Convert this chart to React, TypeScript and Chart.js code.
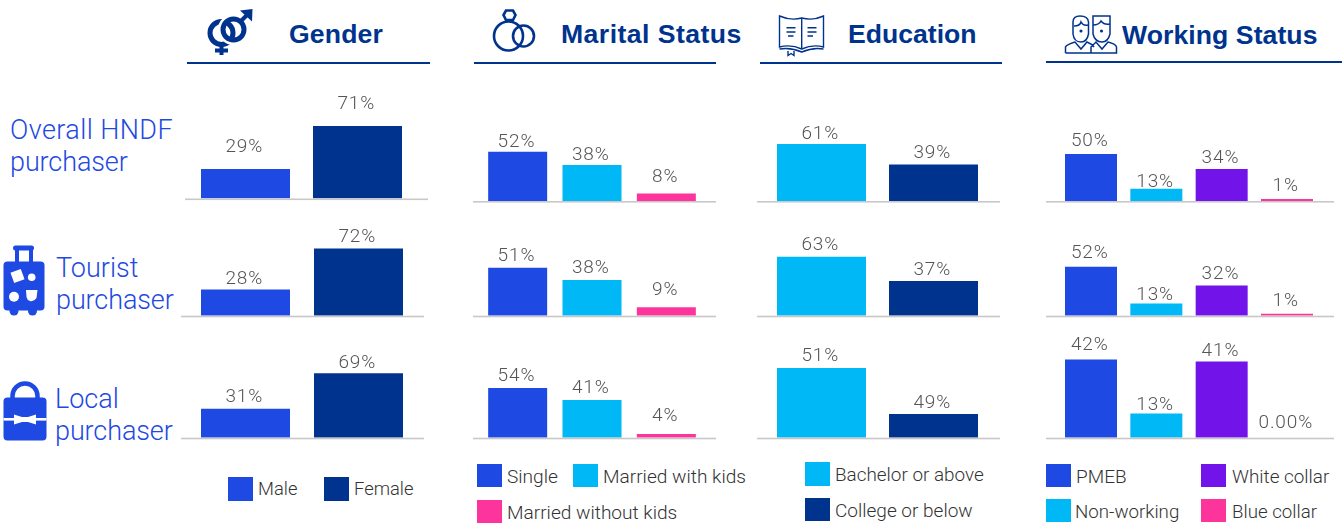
import React, { useEffect, useRef } from "react";
import { Chart, registerables } from "chart.js";

Chart.register(...registerables);

const BLUE = "#1E49E2";
const NAVY = "#00338D";
const CYAN = "#00B8F5";
const PINK = "#FD349C";
const PURPLE = "#7213EA";

// Categories
const genderCategories = ["Male", "Female"];
const maritalCategories = ["Single", "Married with kids", "Married without kids"];
const educationCategories = ["Bachelor or above", "College or below"];
const workingCategories = ["PMEB", "Non-working", "White collar", "Blue collar"];

// Series values
const overallGender = [29, 71];
const touristGender = [28, 72];
const localGender = [31, 69];
const overallMarital = [52, 38, 8];
const touristMarital = [51, 38, 9];
const localMarital = [54, 41, 4];
const overallEducation = [61, 39];
const touristEducation = [63, 37];
// The reference draws this panel's bars out of proportion to its labels (51% / 49%):
// these are the bar heights.
const localEducationBars = [74.5, 25.3];
const overallWorking = [50, 13, 34, 1];
const touristWorking = [52, 13, 32, 1];
const localWorking = [42, 13, 41, null];

// Printed labels
const overallGenderLabels = ["29%", "71%"];
const touristGenderLabels = ["28%", "72%"];
const localGenderLabels = ["31%", "69%"];
const overallMaritalLabels = ["52%", "38%", "8%"];
const touristMaritalLabels = ["51%", "38%", "9%"];
const localMaritalLabels = ["54%", "41%", "4%"];
const overallEducationLabels = ["61%", "39%"];
const touristEducationLabels = ["63%", "37%"];
const localEducationLabels = ["51%", "49%"];
const overallWorkingLabels = ["50%", "13%", "34%", "1%"];
const touristWorkingLabels = ["52%", "13%", "32%", "1%"];
const localWorkingLabels = ["42%", "13%", "41%", "0.00%"];

const genderColors = [BLUE, NAVY];
const maritalColors = [BLUE, CYAN, PINK];
const educationColors = [CYAN, NAVY];
const workingColors = [BLUE, CYAN, PURPLE, PINK];

type Panel = {
  cats: string[];
  values: (number | null)[];
  labels: string[];
  colors: string[];
  lineL: number; lineR: number;   // baseline extent
  areaL: number; areaR: number;   // plot extent
  base: number;                   // baseline y
  ppu: number;                    // pixels per unit
  bar: number;                    // bar thickness
  gaps: number[];                 // label centre above bar top
};

const genderR1 = { lineL: 185, lineR: 428, areaL: 189.5, areaR: 413.5, bar: 89 };
const genderR = { lineL: 181, lineR: 424, areaL: 189, areaR: 415, bar: 89 };
const maritalX = { lineL: 473, lineR: 716, areaL: 480.5, areaR: 703.5, bar: 59 };
const educationX = { lineL: 757, lineR: 1000, areaL: 765.5, areaR: 989.5, bar: 89 };
const workingX = { lineL: 1046, lineR: 1334, areaL: 1058.33, areaR: 1319.67, bar: 52 };

const panels: Panel[] = [
  { cats: genderCategories, values: overallGender, labels: overallGenderLabels, colors: genderColors, ...genderR1, base: 198.5, ppu: 1.02, gaps: [22.3, 22.7] },
  { cats: genderCategories, values: touristGender, labels: touristGenderLabels, colors: genderColors, ...genderR, base: 315.7, ppu: 0.935, gaps: [11.3, 12.3] },
  { cats: genderCategories, values: localGender, labels: localGenderLabels, colors: genderColors, ...genderR, base: 437.7, ppu: 0.935, gaps: [12.3, 11.3] },
  { cats: maritalCategories, values: overallMarital, labels: overallMaritalLabels, colors: maritalColors, ...maritalX, base: 201, ppu: 0.945, gaps: [11, 11, 17.3] },
  { cats: maritalCategories, values: touristMarital, labels: touristMaritalLabels, colors: maritalColors, ...maritalX, base: 315.7, ppu: 0.94, gaps: [12.3, 12.3, 18.3] },
  { cats: maritalCategories, values: localMarital, labels: localMaritalLabels, colors: maritalColors, ...maritalX, base: 437.7, ppu: 0.92, gaps: [12.3, 12.3, 18.7] },
  { cats: educationCategories, values: overallEducation, labels: overallEducationLabels, colors: educationColors, ...educationX, base: 201, ppu: 0.935, gaps: [11, 12] },
  { cats: educationCategories, values: touristEducation, labels: touristEducationLabels, colors: educationColors, ...educationX, base: 315.7, ppu: 0.935, gaps: [12.3, 12.3] },
  { cats: educationCategories, values: localEducationBars, labels: localEducationLabels, colors: educationColors, ...educationX, base: 437.7, ppu: 0.935, gaps: [12.3, 11.3] },
  { cats: workingCategories, values: overallWorking, labels: overallWorkingLabels, colors: workingColors, ...workingX, base: 201, ppu: 0.94, gaps: [14, 8, 11.3, 14] },
  { cats: workingCategories, values: touristWorking, labels: touristWorkingLabels, colors: workingColors, ...workingX, base: 315.7, ppu: 0.94, gaps: [14.3, 9.3, 12, 14] },
  { cats: workingCategories, values: localWorking, labels: localWorkingLabels, colors: workingColors, ...workingX, base: 437.7, ppu: 1.86, gaps: [15, 9, 11.3, 15] },
];

const LABEL_FONT = '300 19px Roboto, sans-serif';

function PanelChart({ p }: { p: Panel }) {
  const ref = useRef<HTMLCanvasElement>(null);
  const height = 110;
  const canvasBottom = Math.ceil(p.base) + 3;
  const top = canvasBottom - height;
  const bottomPad = canvasBottom - p.base;
  const areaHeight = p.base - top;

  useEffect(() => {
    const overlay = {
      id: "panelOverlay",
      afterDatasetsDraw(chart: any) {
        const { ctx, chartArea } = chart;
        ctx.save();
        ctx.fillStyle = "#C8C8C8";
        ctx.fillRect(0, chartArea.bottom, chart.width, 1.6);
        ctx.font = LABEL_FONT;
        (ctx as any).letterSpacing = "0.9px";
        ctx.fillStyle = "#555555";
        ctx.textAlign = "center";
        ctx.textBaseline = "middle";
        const meta = chart.getDatasetMeta(0);
        const y0 = chart.scales.y.getPixelForValue(0);
        p.labels.forEach((label, i) => {
          const el = meta.data[i];
          const top = p.values[i] == null ? y0 : el.y;
          ctx.fillText(label, el.x - 1.2, top - p.gaps[i] + 1);
        });
        ctx.restore();
      },
    };
    const chart = new Chart(ref.current as HTMLCanvasElement, {
      type: "bar",
      data: {
        labels: p.cats,
        datasets: [
          {
            data: p.values,
            backgroundColor: p.colors,
            barThickness: p.bar,
            minBarLength: 1.9,
            inflateAmount: 0,
            borderWidth: 0,
          } as any,
        ],
      },
      options: {
        animation: false,
        responsive: false,
        maintainAspectRatio: false,
        devicePixelRatio: 1,
        layout: {
          padding: {
            left: p.areaL - p.lineL,
            right: p.lineR - p.areaR,
            top: 0,
            bottom: bottomPad,
          },
        },
        plugins: { legend: { display: false }, tooltip: { enabled: false }, title: { display: false } },
        scales: {
          x: { display: false, offset: true, grid: { display: false } },
          y: { display: false, min: 0, max: areaHeight / p.ppu, grid: { display: false } },
        },
      },
      plugins: [overlay],
    });
    return () => chart.destroy();
  }, []);

  return (
    <canvas
      ref={ref}
      width={p.lineR - p.lineL}
      height={height}
      style={{ position: "absolute", left: p.lineL, top, width: p.lineR - p.lineL, height, display: "block" }}
    />
  );
}

type Txt = { text: string; x: number; y: number; ls?: number };

const headings: Txt[] = [
  { text: "Gender", x: 289, y: 34, ls: 0.15 },
  { text: "Marital Status", x: 561, y: 34, ls: 0.45 },
  { text: "Education", x: 848, y: 34 },
  { text: "Working Status", x: 1122, y: 35, ls: 0.07 },
];
const headingRules = [
  { x: 187, w: 243, y: 61.5 },
  { x: 473.5, w: 242, y: 61.5 },
  { x: 760, w: 242, y: 61.5 },
  { x: 1046, w: 296, y: 60.5 },
];
const rowTitles: Txt[] = [
  { text: "Overall HNDF", x: 10, y: 130, ls: 0.42 },
  { text: "purchaser", x: 10, y: 162, ls: -0.1 },
  { text: "Tourist", x: 56, y: 268 },
  { text: "purchaser", x: 56, y: 300, ls: -0.1 },
  { text: "Local", x: 55, y: 399 },
  { text: "purchaser", x: 55, y: 431, ls: -0.1 },
];
const legendItems = [
  { text: genderCategories[0], color: BLUE, x: 228, y: 477, h: 24, tx: 258, fs: 18.4, dy: -0.5 },
  { text: genderCategories[1], color: NAVY, x: 324, y: 477, h: 24, tx: 354, fs: 18.4, dy: -0.5 },
  { text: maritalCategories[0], color: BLUE, x: 477, y: 464, h: 23, tx: 507, fs: 19.1, dy: 1 },
  { text: maritalCategories[1], color: CYAN, x: 573, y: 464, h: 23, tx: 603, fs: 19.1, dy: 1 },
  { text: maritalCategories[2], color: PINK, x: 477, y: 500, h: 23, tx: 507, fs: 19.1, dy: 1 },
  { text: educationCategories[0], color: CYAN, x: 805, y: 462, h: 24, tx: 835, fs: 18.9, dy: 1 },
  { text: educationCategories[1], color: NAVY, x: 805, y: 498, h: 23, tx: 835, fs: 19, dy: 1 },
  { text: workingCategories[0], color: BLUE, x: 1046, y: 464, h: 23, tx: 1076, fs: 19, dy: 1 },
  { text: workingCategories[2], color: PURPLE, x: 1201, y: 464, h: 23, tx: 1232, fs: 18.9, dy: 1 },
  { text: workingCategories[1], color: CYAN, x: 1046, y: 499, h: 23, tx: 1075, fs: 18.7, dy: 1 },
  { text: workingCategories[3], color: PINK, x: 1201, y: 499, h: 23, tx: 1232, fs: 18.7, dy: 1 },
];

function Icons() {
  return (
    <svg width={1342} height={528} style={{ position: "absolute", left: 0, top: 0 }}>
      {/* gender */}
      <g fill="none" stroke={NAVY}>
        <circle cx={221.5} cy={33} r={11.5} strokeWidth={5} />
        <circle cx={233.5} cy={29.5} r={12.5} stroke="#fff" strokeWidth={6} />
        <circle cx={233.5} cy={29.5} r={10.5} strokeWidth={5} />
        <path d="M221.5 45V55M215 50.5H228" strokeWidth={4} />
        <path d="M241 21L250 12" strokeWidth={4} />
        <path d="M240 10.5L252.5 9L252 21.5Z" fill={NAVY} stroke="none" />
      </g>
      {/* marital */}
      <g fill="none" stroke={NAVY} strokeWidth={2.6}>
        <circle cx={508.5} cy={36} r={14.5} />
        <circle cx={523.5} cy={36} r={10.5} />
        <path d="M503.5 15L506 10.5H513L515.5 15L513 20H506Z" />
      </g>
      {/* education */}
      <g fill="none" stroke={NAVY} strokeWidth={1.4}>
        <path d="M779.5 16Q791 21 801.7 18Q813 21 823.5 16V47Q813 44 801.7 49Q791 44 779.5 47Z" />
        <path d="M801.7 18V49" />
        <path d="M779.5 49Q791 47 801.7 52Q813 47 823.5 49" />
        <path d="M788 51V55.5L791 53.5L794 55.5V51" />
        <path d="M786.5 27.7H795.5M786.5 32H795.5M788 36H793.5M807.5 27.7H816.5M807.5 32H816.5M807.5 36H813" strokeWidth={1.6} />
      </g>
      {/* working */}
      <g fill="none" stroke={NAVY} strokeWidth={1.5}>
        <path d="M1073 22Q1073 16 1080 16Q1088 16 1088.5 22V34Q1087 42 1081 42Q1074 42 1073 34Z" />
        <path d="M1093 16H1110V34Q1108 42 1102 42Q1095 42 1093 34Z" />
        <path d="M1074 26Q1080 26 1081 22Q1083 26 1088 25M1093 25Q1099 25 1101 21Q1104 25 1110 24" />
        <path d="M1065.5 53V47Q1066 45 1075 42L1081 49L1087 42Q1092 44 1094 47M1091 53V47Q1094 44 1096 42L1102 49L1108 42Q1116 44 1116.5 47V53H1065.5Z" />
        <circle cx={1081} cy={31} r={0.8} fill={NAVY} />
        <circle cx={1101.5} cy={31} r={0.8} fill={NAVY} />
      </g>
      {/* suitcase */}
      <g fill={BLUE}>
        <rect x={13} y={245.5} width={21} height={5} rx={2.5} />
        <rect x={15} y={248} width={4} height={15} />
        <rect x={29} y={248} width={4} height={15} />
        <rect x={3.5} y={261.5} width={41} height={49} rx={4} />
        <circle cx={14} cy={311} r={4.5} />
        <circle cx={32.5} cy={311} r={4.5} />
        <g fill="#fff">
          <rect x={12} y={270.5} width={11} height={11} transform="rotate(-20 17.5 276)" />
          <circle cx={31.7} cy={277.3} r={3.8} />
          <circle cx={14} cy={296.7} r={5} />
          <path d="M26 290H37.5L36.5 298Q34 302 30 301Q27 300 26.5 297Z" />
        </g>
      </g>
      {/* bag */}
      <g>
        <path d="M12.5 399V396A12.5 12.5 0 0 1 37.5 396V399" fill="none" stroke={BLUE} strokeWidth={4.5} />
        <rect x={3.5} y={397.5} width={43} height={43} rx={4} fill={BLUE} />
        <rect x={3.5} y={418} width={43} height={2.6} fill="#fff" />
        <path d="M14 414.5L22 417H28L36 414.5V424.5L28 422H22L14 424.5Z" fill="#fff" />
      </g>
    </svg>
  );
}

export default function App() {
  return (
    <div style={{ position: "absolute", left: 0, top: 0, width: 1342, height: 528, overflow: "hidden", background: "#fff" }}>
      <Icons />
      {headings.map((h) => (
        <div key={h.text} style={{ position: "absolute", left: h.x, top: h.y - 16, height: 32, lineHeight: "32px", fontFamily: '"Liberation Sans", Arial, sans-serif', fontWeight: 700, fontSize: 26.6, letterSpacing: h.ls || 0, color: NAVY, whiteSpace: "nowrap" }}>{h.text}</div>
      ))}
      {headingRules.map((r) => (
        <div key={r.x} style={{ position: "absolute", left: r.x, top: r.y, width: r.w, height: 2, background: NAVY }} />
      ))}
      {rowTitles.map((t) => (
        <div key={t.text + t.y} style={{ position: "absolute", left: t.x, top: t.y - 16, height: 32, lineHeight: "32px", fontFamily: "Roboto, sans-serif", fontWeight: 300, fontSize: 27, letterSpacing: t.ls || 0, color: BLUE, whiteSpace: "nowrap" }}>{t.text}</div>
      ))}
      {panels.map((p, i) => (
        <PanelChart key={i} p={p} />
      ))}
      {legendItems.map((l) => (
        <React.Fragment key={l.text}>
          <div style={{ position: "absolute", left: l.x, top: l.y, width: 25, height: l.h, background: l.color }} />
          <div style={{ position: "absolute", left: l.tx, top: l.y + l.h / 2 - 12 + l.dy, height: 24, lineHeight: "24px", fontFamily: "Roboto, sans-serif", fontWeight: 300, fontSize: l.fs, color: "#333", whiteSpace: "nowrap" }}>{l.text}</div>
        </React.Fragment>
      ))}
    </div>
  );
}
